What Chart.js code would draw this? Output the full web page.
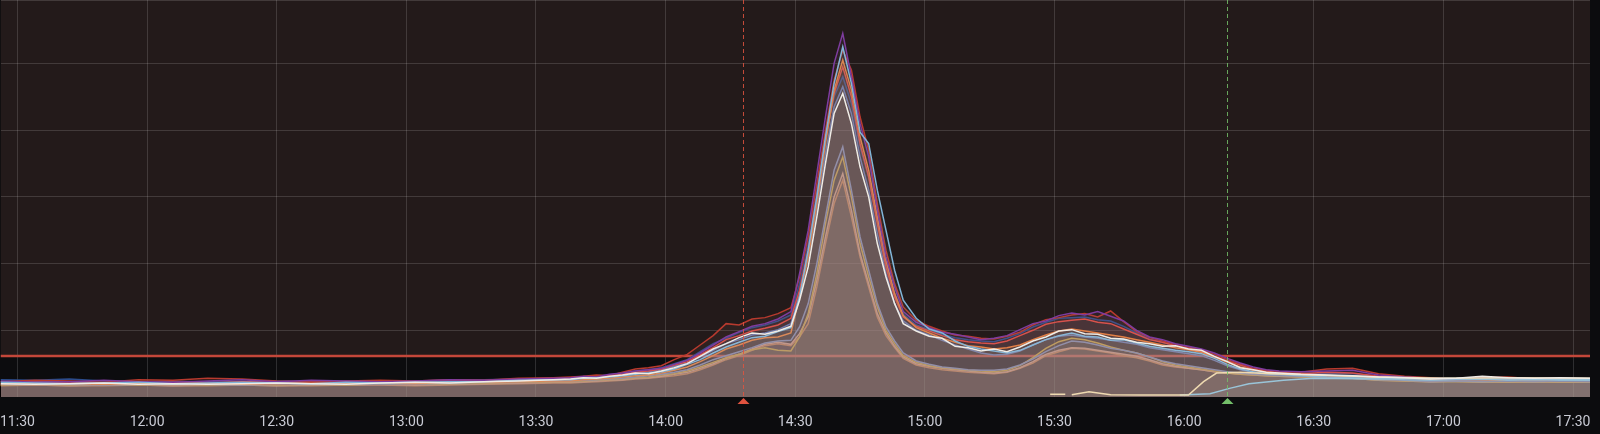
<!DOCTYPE html>
<html><head><meta charset="utf-8">
<script src="https://cdn.jsdelivr.net/npm/chart.js@4.4.1/dist/chart.umd.min.js"></script>
<style>html,body{margin:0;padding:0;background:#0c0c0e;overflow:hidden}</style>
</head><body>
<canvas id="c" width="1600" height="434"></canvas>
<script>
// time axis in minutes after 11:30
const minutes = [-4,4,12,20,28,36,44,52,60,68,76,84,92,100,108,116,124,
  128,131,134,137,140,143,146,149,152,155,158,161,164,167,170,173,176,179,
  181,183,185,187,189,191,193,195,197,199,201,203,205,
  208,211,214,217,220,223,226,229,232,235,238,241,244,247,250,253,256,259,262,265,268,271,274,277,280,283,286,289,292,
  297,303,309,315,321,327,333,339,345,351,357,364];
const tickMinutes = [0,30,60,90,120,150,180,210,240,270,300,330,360];
const tickLabels = ["11:30","12:00","12:30","13:00","13:30","14:00","14:30","15:00","15:30","16:00","16:30","17:00","17:30"];
const yMin = 0, yMax = 59.5, yStep = 10;
const threshold = 6.15;
const annotationMinutes = [168, 280];
const annotationColors = ["#e0533f", "#73bf69"];

const seriesColors = ["#efece6","#82b5d8","#7e3c9f","#b83a2e","#ef843c","#e24d42","#2c4c8c","#5a7fc4","#7b93c6","#d9ae2c","#e4a484","#d87a3a"];

const sWhite = [2.0,1.9,2.0,2.1,1.9,2.0,1.9,2.0,2.1,2.0,1.9,2.1,2.2,2.1,2.3,2.4,2.6,
  2.7,2.9,2.8,3.1,3.3,3.6,3.5,3.9,4.4,5.0,6.1,7.2,8.0,8.9,9.6,9.4,9.9,10.6,
  14.5,19.5,27,35,42.5,45.5,41,34.5,30,23,18,14,11,
  9.9,9.1,8.8,7.6,7.4,6.9,7.2,6.8,7.5,8.4,9.0,9.9,10.1,9.5,9.4,8.8,8.7,8.2,8.0,7.6,7.7,7.2,7.0,6.1,5.3,4.4,4.1,3.7,3.6,
  3.4,3.3,3.2,3.0,2.9,2.7,2.8,3.1,2.9,2.8,2.9,2.8];
const sLightBlue = [2.2,2.1,2.0,2.1,2.2,2.0,2.1,2.2,2.1,2.0,2.2,2.1,2.2,2.3,2.3,2.5,2.6,
  2.6,2.8,2.9,3.0,3.2,3.4,3.6,3.8,4.2,4.9,5.6,6.6,7.5,8.2,8.9,9.1,9.8,10.4,
  15,22,30,39,47,52.5,47,39.7,38,31,25,19,14.5,
  11.8,10.2,9.6,8.4,7.6,7.2,6.9,6.6,7.0,7.8,8.6,9.2,9.6,9.1,9.0,8.5,8.6,8.1,7.6,7.3,7.0,6.8,6.5,5.8,4.9,4.2,3.8,3.5,3.4,
  3.2,3.0,2.9,2.8,2.6,2.5,2.6,2.7,2.5,2.6,2.5,2.5];
const sPurple = [2.4,2.2,2.3,2.5,2.3,2.2,2.4,2.6,2.3,2.5,2.4,2.3,2.4,2.6,2.5,2.7,2.8,
  2.9,3.1,3.0,3.4,3.6,3.9,4.1,4.3,4.9,5.5,6.6,7.8,9.0,9.8,10.6,11.0,11.7,12.8,
  18.5,25,33.5,42,50,54.5,48,41,36,28,21,16.5,12.8,
  11.2,10.4,9.7,9.4,9.0,8.6,8.8,9.2,10.1,11.0,11.4,12.2,12.6,12.3,12.8,12.1,11.4,10.0,9.0,8.6,8.0,7.6,7.2,6.6,5.8,5.1,4.5,4.1,3.9,
  3.8,3.9,4.0,3.3,3.0,2.8,2.7,2.8,2.9,2.7,2.6,2.6];
const sDarkRed = [2.3,2.5,2.4,2.2,2.6,2.5,2.8,2.7,2.4,2.3,2.4,2.5,2.4,2.6,2.5,2.8,2.9,
  3.0,3.1,3.3,3.2,3.7,4.2,4.4,4.7,5.6,6.4,7.8,9.2,11.0,10.8,11.7,11.9,12.5,13.4,
  18,24,32,40,47.5,52,49,42,37,29,22,17,13.5,
  11.5,10.6,9.9,9.3,9.1,8.8,8.7,9.1,9.7,10.8,11.6,11.9,12.3,12.5,12.0,12.9,11.3,9.8,8.9,8.4,7.9,7.5,7.1,6.4,5.6,5.0,4.3,4.0,3.8,
  3.7,4.2,4.3,3.5,3.1,2.9,2.7,2.9,3.0,2.7,2.6,2.7];
const sOrange = [2.0,2.1,2.0,1.9,2.0,2.1,2.0,1.9,2.0,2.1,2.0,2.1,2.0,2.2,2.2,2.3,2.4,
  2.4,2.6,2.7,2.8,3.0,3.2,3.3,3.6,4.0,4.5,5.3,6.2,7.2,7.8,8.5,8.9,9.0,9.6,
  15,21,29,38,46,50.5,46,39,34,27,20.5,15.5,12.2,
  10.4,9.6,8.8,8.2,7.7,7.5,7.2,7.4,7.8,8.6,9.3,9.9,10.2,9.9,9.6,9.3,9.0,8.6,8.2,7.8,7.4,7.1,6.7,6.0,5.2,4.5,4.0,3.7,3.5,
  3.4,3.2,3.1,2.9,2.8,2.6,2.7,2.6,2.5,2.6,2.5,2.5];
const sRed = [2.1,2.2,2.1,2.0,2.1,2.2,2.1,2.3,2.2,2.1,2.2,2.3,2.2,2.4,2.4,2.5,2.6,
  2.7,2.9,3.0,3.1,3.4,3.7,3.9,4.2,4.8,5.3,6.3,7.4,8.6,9.2,9.9,10.3,10.8,11.8,
  16,22,30,38.5,45.5,49.5,45,38,33,26,19.5,15,12,
  10.6,9.9,9.2,8.6,8.3,8.1,8.0,8.4,9.2,10.0,10.9,11.3,11.5,11.7,11.2,11.0,10.2,9.4,8.6,8.2,7.7,7.3,6.8,6.1,5.4,4.8,4.2,3.9,3.7,
  3.5,3.7,3.6,3.1,2.8,2.7,2.6,2.7,2.7,2.6,2.5,2.6];
const sDarkBlue = [2.6,2.5,2.7,2.4,2.3,2.4,2.2,2.3,2.4,2.3,2.2,2.3,2.4,2.5,2.6,2.7,2.8,
  2.9,3.0,3.2,3.3,3.6,3.9,4.1,4.4,5.0,5.6,6.8,8.0,8.8,9.7,10.4,10.8,11.4,12.3,
  17,23,31,39,45,48,44,37.5,33,26.5,20,15.5,12.4,
  10.8,10.1,9.4,8.9,8.6,8.4,8.3,8.8,9.5,10.5,11.2,11.8,11.9,12.0,11.6,11.4,10.6,9.6,8.7,8.2,7.7,7.3,6.9,6.2,5.5,4.8,4.2,3.9,3.7,
  3.6,3.5,3.5,3.1,2.8,2.7,2.6,2.8,2.7,2.6,2.6,2.6];
const sBlue = [2.3,2.4,2.2,2.1,2.3,2.2,2.3,2.1,2.2,2.3,2.2,2.4,2.3,2.4,2.5,2.6,2.7,
  2.8,2.9,3.0,3.1,3.3,3.6,3.8,4.1,4.6,5.1,6.0,7.0,8.0,8.6,9.3,9.6,10.1,11.0,
  15.5,21,28.5,36.5,43.5,46.5,42.5,36,31,24.5,18.5,14,11.4,
  10.0,9.3,8.5,7.8,7.2,6.6,6.3,6.4,6.9,7.8,8.6,9.1,9.3,9.0,8.8,8.5,8.2,7.9,7.4,7.1,6.8,6.5,6.2,5.5,4.7,4.1,3.7,3.4,3.3,
  3.2,3.1,3.0,2.8,2.6,2.5,2.6,2.5,2.4,2.5,2.4,2.4];
const sBlueGray = [1.9,2.0,1.9,1.8,1.9,2.0,1.9,1.8,1.9,2.0,1.9,2.0,1.9,2.1,2.2,2.3,2.4,
  2.4,2.5,2.6,2.7,2.8,3.0,3.2,3.4,3.7,4.1,4.8,5.6,6.2,6.8,7.4,8.1,8.4,8.5,
  10.5,14,20,27,34,37.5,31,24,19,14,10.5,8.4,6.6,
  5.4,4.9,4.5,4.3,4.1,4.0,4.0,4.2,4.8,5.7,6.8,7.7,8.4,8.2,7.8,7.3,7.0,6.6,6.0,5.4,5.0,4.7,4.4,4.1,3.8,3.6,3.4,3.3,3.2,
  3.1,3.0,2.8,2.6,2.5,2.3,2.4,2.3,2.4,2.3,2.4,2.3];
const sYellow = [1.8,1.9,1.8,1.9,1.8,1.9,1.8,1.9,1.8,1.9,1.8,2.0,1.9,2.0,2.1,2.2,2.3,
  2.3,2.4,2.5,2.6,2.7,2.9,3.0,3.3,3.5,3.9,4.5,5.2,5.9,6.4,7.1,7.4,7.0,6.9,
  9,12.5,18.5,26,32.5,36,30,23,18,13.5,10,8,6.2,
  5.2,4.7,4.4,4.2,4.0,3.9,3.8,4.0,4.7,5.9,7.3,8.3,8.8,8.6,8.1,7.5,7.0,6.6,6.0,5.3,4.8,4.5,4.2,3.9,3.6,3.4,3.3,3.2,3.1,
  3.0,2.9,2.8,2.5,2.4,2.3,2.3,2.2,2.3,2.2,2.3,2.2];
const sTan = [1.8,1.8,1.7,1.8,1.8,1.7,1.8,1.8,1.7,1.8,1.8,1.9,1.8,1.9,2.0,2.1,2.2,
  2.2,2.3,2.4,2.5,2.6,2.8,2.9,3.1,3.4,3.7,4.3,5.0,5.8,6.4,7.2,7.9,8.2,7.9,
  9.5,12,17.5,24,30,33.5,28,21.5,17,12.5,9.6,7.6,6.0,
  5.0,4.6,4.3,4.1,3.9,3.7,3.6,3.8,4.4,5.3,6.4,7.0,7.4,7.3,7.0,6.7,6.4,6.1,5.6,5.0,4.6,4.3,4.1,3.8,3.6,3.5,3.4,3.3,3.2,
  3.1,3.0,2.9,2.6,2.5,2.4,2.5,2.4,2.3,2.4,2.3,2.3];
const sBrown = [1.7,1.8,1.7,1.7,1.8,1.7,1.7,1.8,1.7,1.7,1.8,1.8,1.7,1.8,1.9,2.0,2.1,
  2.1,2.2,2.3,2.4,2.5,2.7,2.8,3.0,3.2,3.5,4.1,4.8,5.6,6.2,7.0,7.7,8.0,7.7,
  9,11,16.5,23,29,32.5,27,21,16.5,12,9.2,7.4,5.8,
  4.8,4.4,4.1,3.9,3.7,3.6,3.5,3.7,4.3,5.1,6.2,6.8,7.3,7.2,6.9,6.6,6.2,5.9,5.4,4.8,4.5,4.3,4.1,3.8,3.6,3.4,3.3,3.2,3.1,
  3.0,2.9,2.8,2.5,2.4,2.3,2.4,2.3,2.2,2.3,2.2,2.2];

const creamMinutes = [239,242.5,243,244,248,253,260,266,271,274.5,277.5,283,290,300,315,330,345,364];
const creamValues  = [0.4,0.4,null,0.35,0.8,0.35,0.3,0.3,0.3,2.3,3.6,3.7,3.5,3.3,3.0,2.8,2.9,2.8];
const skyMinutes = [269,276,280.5,285,293,300,315,330,345,364];
const skyValues  = [0.3,0.5,1.3,2.0,2.5,2.8,2.7,2.8,2.7,2.6];

const mainSeries = [sWhite,sLightBlue,sPurple,sDarkRed,sOrange,sRed,sDarkBlue,sBlue,sBlueGray,sYellow,sTan,sBrown];

function fillOf(hex, a){
  const n=parseInt(hex.slice(1),16);
  const r=Math.round(((n>>16)&255)*0.5+176*0.5), g=Math.round(((n>>8)&255)*0.5+166*0.5), b=Math.round((n&255)*0.5+148*0.5);
  return `rgba(${r},${g},${b},${a})`;
}
function mk(xs, ys, color){
  return {data: xs.map((x,i)=>({x:x,y:ys[i]})), borderColor: color, backgroundColor: fillOf(color,0.09),
    borderWidth:1.5, pointRadius:0, fill:'origin', tension:0, spanGaps:false};
}
const datasets = mainSeries.map((s,i)=>mk(minutes, s, seriesColors[i]));
datasets.splice(1,0,mk(creamMinutes, creamValues, "#f2dcb0"));
datasets.splice(2,0,mk(skyMinutes, skyValues, "#8fc6e2"));

const bgPlugin = {
  id:'bg',
  beforeDraw(chart){
    const {ctx, chartArea:a, scales:{y}} = chart;
    ctx.save();
    ctx.fillStyle = '#0c0c0e';
    ctx.fillRect(0,0,chart.width,chart.height);
    const ty = y.getPixelForValue(threshold);
    ctx.fillStyle = '#231a1a';
    ctx.fillRect(a.left, a.top, a.right-a.left, ty-a.top);
    ctx.restore();
  },
  beforeDatasetsDraw(chart){
    const {ctx, chartArea:a, scales:{y}} = chart;
    const ty = y.getPixelForValue(threshold);
    ctx.save();
    ctx.strokeStyle = '#c4473a';
    ctx.lineWidth = 2.5;
    ctx.beginPath(); ctx.moveTo(a.left, ty); ctx.lineTo(a.right, ty); ctx.stroke();
    ctx.restore();
  },
  afterDatasetsDraw(chart){
    const {ctx, chartArea:a, scales:{x}} = chart;
    annotationMinutes.forEach((m,i)=>{
      const px = Math.round(x.getPixelForValue(m))+0.5;
      ctx.save();
      ctx.strokeStyle = annotationColors[i];
      ctx.globalAlpha = 0.85;
      ctx.lineWidth = 1;
      ctx.setLineDash([4,3]);
      ctx.beginPath(); ctx.moveTo(px, a.top); ctx.lineTo(px, a.bottom); ctx.stroke();
      ctx.setLineDash([]);
      ctx.globalAlpha = 1;
      ctx.fillStyle = annotationColors[i];
      ctx.beginPath(); ctx.moveTo(px, a.bottom+1); ctx.lineTo(px+6, a.bottom+7); ctx.lineTo(px-6, a.bottom+7); ctx.closePath(); ctx.fill();
      ctx.restore();
    });
  }
};

new Chart(document.getElementById('c'), {
  type:'line',
  data:{datasets},
  plugins:[bgPlugin],
  options:{
    responsive:false, animation:false, devicePixelRatio:1,
    layout:{padding:{left:0,right:10,top:0,bottom:0}},
    plugins:{legend:{display:false}, tooltip:{enabled:false}},
    scales:{
      x:{type:'linear', min:-3.86, max:363.93,
        afterBuildTicks:(ax)=>{ax.ticks = tickMinutes.map(v=>({value:v}));},
        ticks:{callback:(v,i)=>tickLabels[i], autoSkip:false, maxRotation:0, padding:0,
          color:'#c9cbd4', font:{family:'Roboto', size:14, lineHeight:1.64}},
        grid:{color:'rgba(255,255,255,0.14)', tickColor:'rgba(0,0,0,0)', tickLength:14, drawTicks:true},
        border:{display:false}},
      y:{type:'linear', min:yMin, max:yMax,
        ticks:{display:false, stepSize:yStep},
        grid:{color:(c)=>c.tick && c.tick.value===0 ? 'rgba(0,0,0,0)' : 'rgba(255,255,255,0.14)', drawTicks:false},
        border:{display:false}}
    }
  }
});
</script>
</body></html>
